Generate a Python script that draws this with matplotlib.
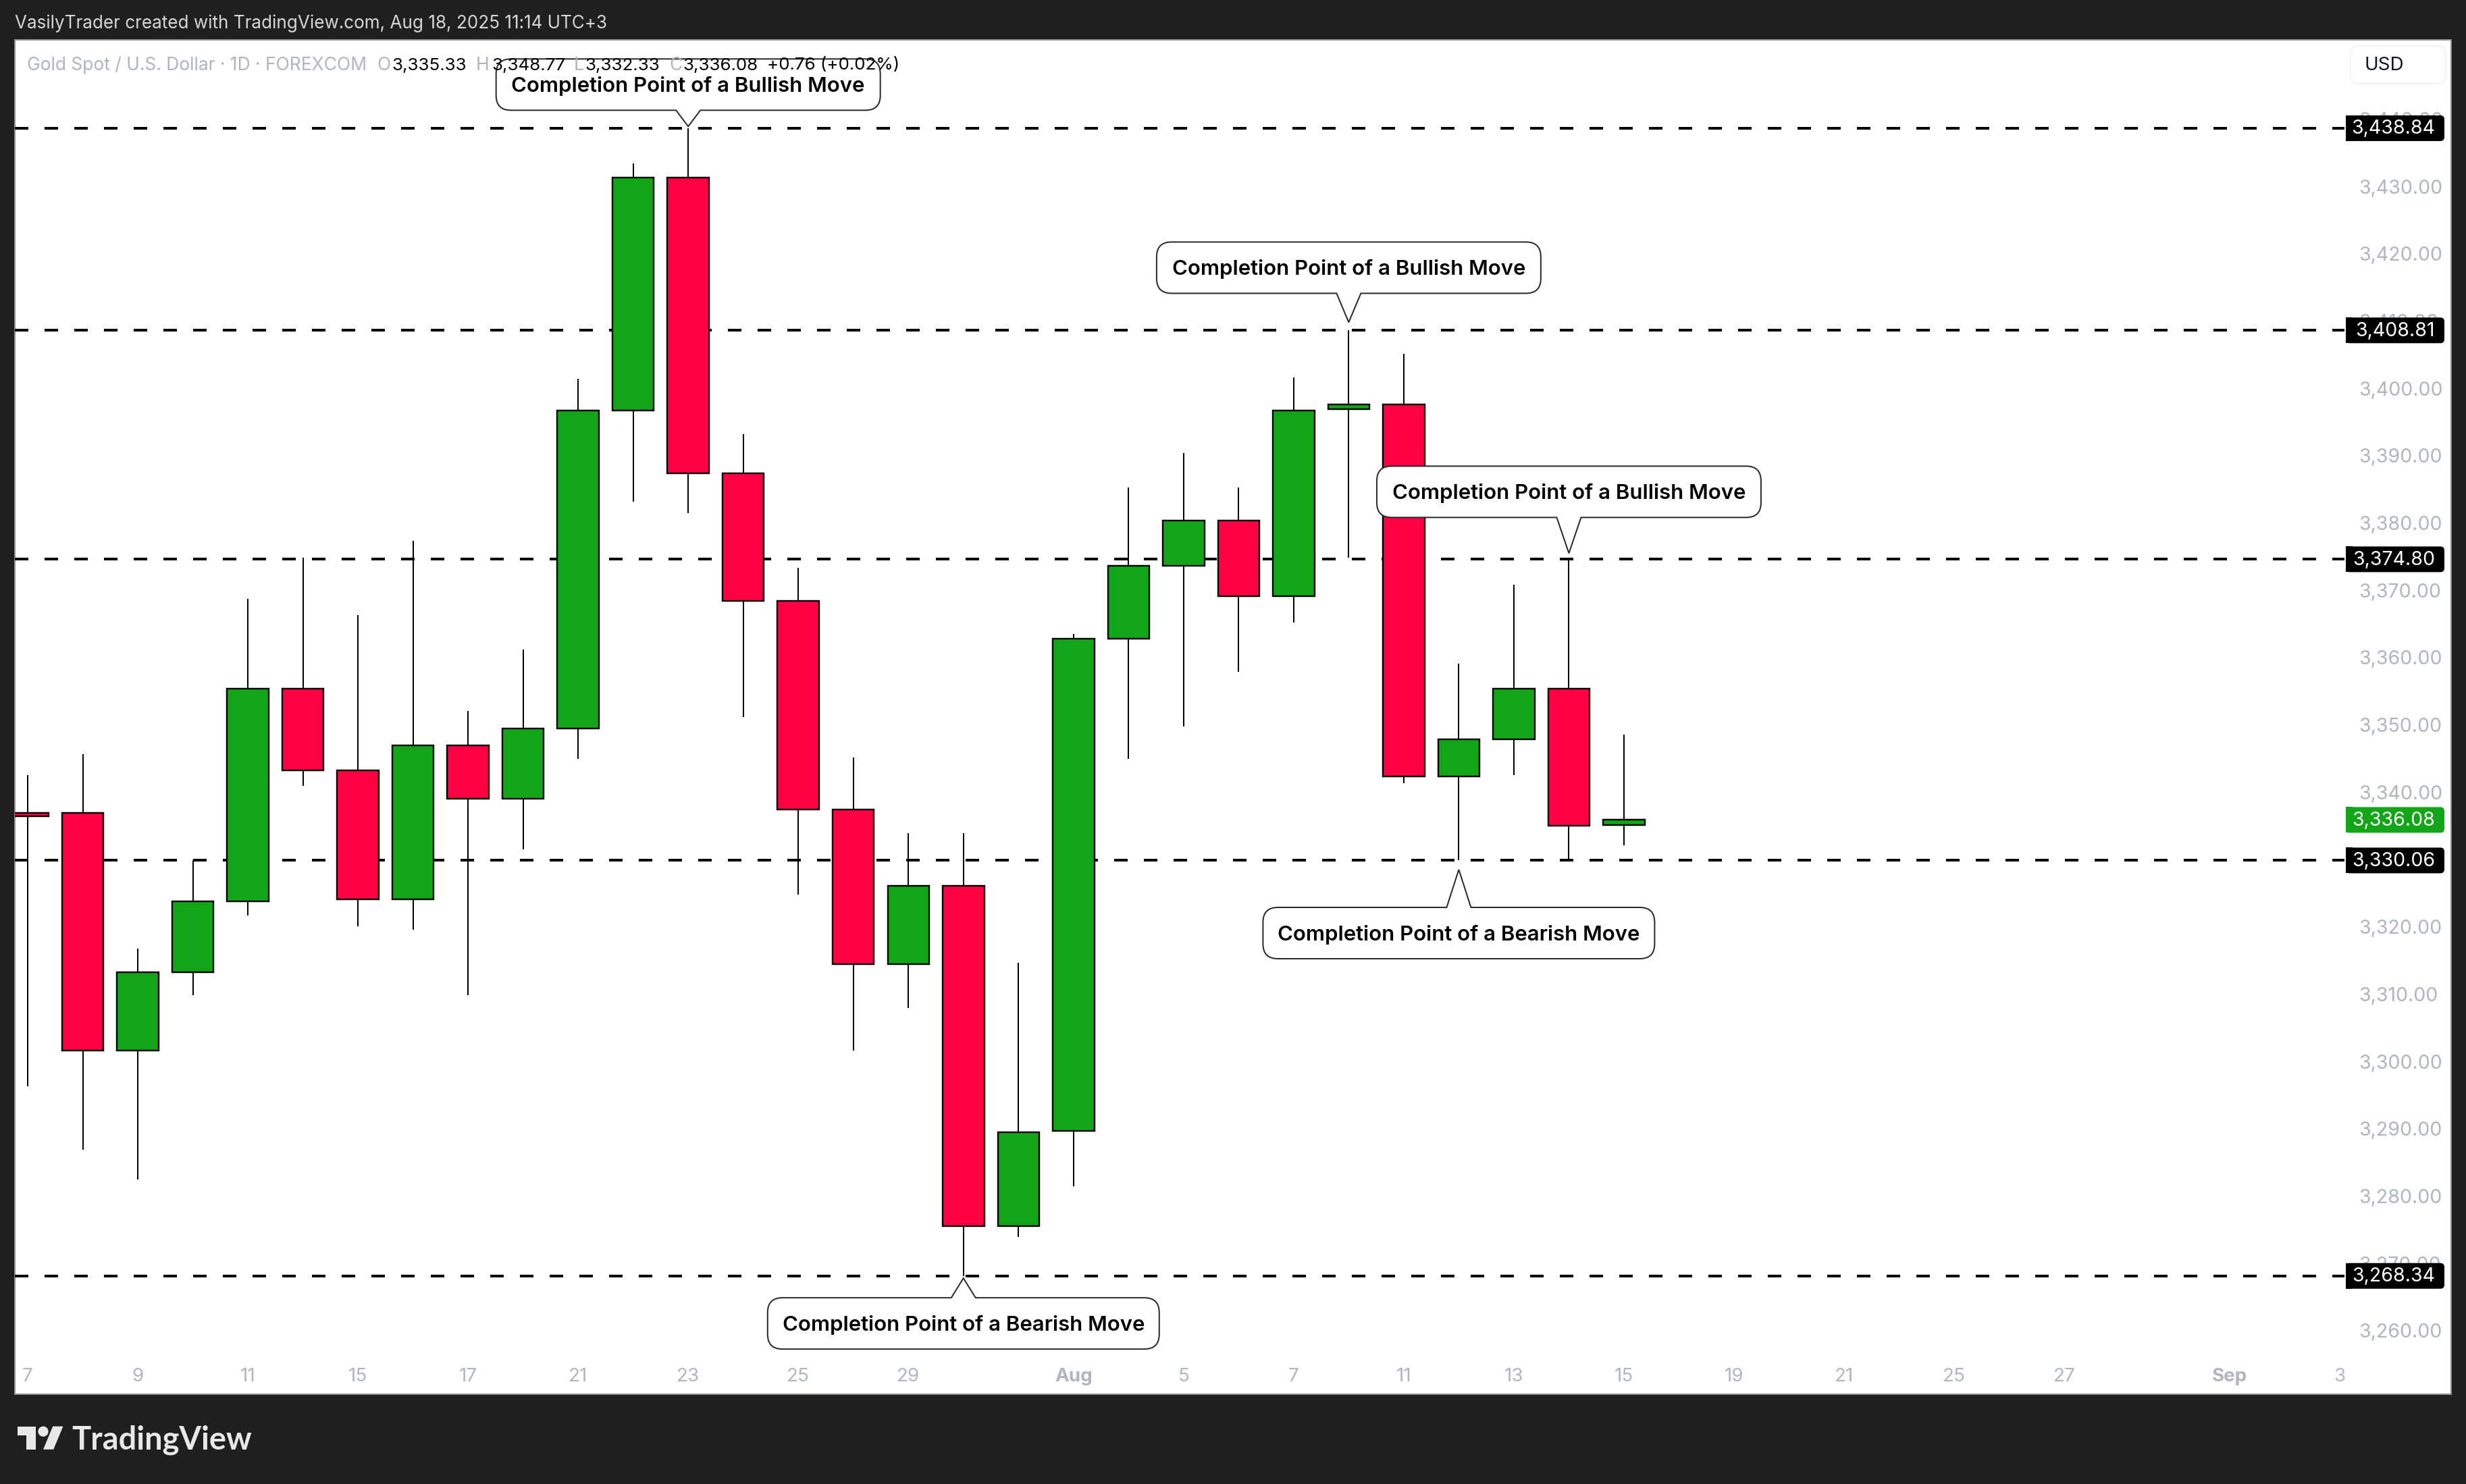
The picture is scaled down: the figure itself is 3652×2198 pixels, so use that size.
import matplotlib
matplotlib.use('Agg')
import matplotlib.pyplot as plt
from matplotlib.patches import FancyBboxPatch, PathPatch, Rectangle, Circle, Polygon
from matplotlib.path import Path
from matplotlib.transforms import ScaledTranslation

W, H = 3652, 2198
DARK = '#1f1f1f'
GREEN = '#12a518'
RED = '#ff0044'
GREY = '#b2b5be'
FONT = 'Inter'

# daily candles
opens = [3337.1, 3337.1, 3301.8, 3313.5, 3324.0, 3355.6, 3343.4, 3324.3, 3347.2, 3339.2,
         3349.7, 3396.9, 3431.5, 3387.6, 3368.6, 3337.6, 3314.7, 3326.3, 3275.7, 3289.9,
         3363.0, 3373.8, 3380.6, 3369.3, 3397.1, 3397.8, 3342.5, 3348.1, 3355.6, 3335.33]
highs = [3342.7, 3345.8, 3317.0, 3330.1, 3368.9, 3375.0, 3366.5, 3377.5, 3352.3, 3361.4,
         3401.6, 3433.6, 3438.84, 3393.4, 3373.5, 3345.3, 3334.1, 3334.1, 3314.9, 3363.7,
         3385.5, 3390.6, 3385.5, 3401.8, 3408.81, 3405.3, 3359.3, 3371.0, 3374.8, 3348.77]
lows = [3296.5, 3287.1, 3282.7, 3310.0, 3321.9, 3341.1, 3320.3, 3319.8, 3310.0, 3331.7,
        3345.1, 3383.4, 3381.7, 3351.4, 3325.0, 3301.8, 3308.1, 3268.34, 3274.1, 3281.7,
        3345.1, 3350.0, 3358.1, 3365.4, 3375.0, 3341.5, 3330.06, 3342.7, 3330.06, 3332.33]
closes = [3336.6, 3301.8, 3313.5, 3324.0, 3355.6, 3343.4, 3324.3, 3347.2, 3339.2, 3349.7,
          3396.9, 3431.5, 3387.6, 3368.6, 3337.6, 3314.7, 3326.3, 3275.7, 3289.7, 3363.0,
          3373.8, 3380.6, 3369.3, 3396.9, 3397.8, 3342.5, 3348.1, 3355.6, 3335.2, 3336.08]

levels = [3438.84, 3408.81, 3374.80, 3330.06, 3268.34]
last_price = 3336.08

price_ticks = [3260, 3270, 3280, 3290, 3300, 3310, 3320, 3330, 3340, 3350, 3360,
               3370, 3380, 3390, 3400, 3410, 3420, 3430, 3440]
time_ticks = [0, 2, 4, 6, 8, 10, 12, 14, 16, 19, 21, 23, 25, 27, 29, 31, 33, 35, 37, 40, 42]
time_labels = ['7', '9', '11', '15', '17', '21', '23', '25', '29', 'Aug', '5', '7', '11',
               '13', '15', '19', '21', '25', '27', 'Sep', '3']

callout_texts = ['Completion Point of a Bullish Move', 'Completion Point of a Bullish Move',
                 'Completion Point of a Bullish Move', 'Completion Point of a Bearish Move',
                 'Completion Point of a Bearish Move']
callout_index = [12, 24, 28, 26, 17]
callout_price = [3439.1, 3410.0, 3375.7, 3328.7, 3268.0]
callout_gap = [24, 43, 53, 56, 29]


def px(v):
    # image pixels to points at dpi 100
    return v * 0.72


def draw_callout(over, ax, text, idx, price, gap):
    disp = ax.transData.transform((idx, price))
    tx, ty = over.transData.inverted().transform(disp)
    bw = 569 if 'Bullish' in text else 580
    bh = 76
    r = 22
    hb = 18
    l = tx - bw / 2.0
    rt = tx + bw / 2.0
    if 'Bullish' in text:
        bot = ty - gap
        top = bot - bh
        verts = [(l + r, top), (rt - r, top), (rt, top), (rt, top + r), (rt, bot - r), (rt, bot),
                 (rt - r, bot), (tx + hb, bot), (tx, ty), (tx - hb, bot), (l + r, bot), (l, bot),
                 (l, bot - r), (l, top + r), (l, top), (l + r, top)]
        codes = [Path.MOVETO, Path.LINETO, Path.CURVE3, Path.CURVE3, Path.LINETO, Path.CURVE3,
                 Path.CURVE3, Path.LINETO, Path.LINETO, Path.LINETO, Path.LINETO, Path.CURVE3,
                 Path.CURVE3, Path.LINETO, Path.CURVE3, Path.CURVE3]
    else:
        top = ty + gap
        bot = top + bh
        verts = [(l + r, top), (tx - hb, top), (tx, ty), (tx + hb, top), (rt - r, top), (rt, top),
                 (rt, top + r), (rt, bot - r), (rt, bot), (rt - r, bot), (l + r, bot), (l, bot),
                 (l, bot - r), (l, top + r), (l, top), (l + r, top)]
        codes = [Path.MOVETO, Path.LINETO, Path.LINETO, Path.LINETO, Path.LINETO, Path.CURVE3,
                 Path.CURVE3, Path.LINETO, Path.CURVE3, Path.CURVE3, Path.LINETO, Path.CURVE3,
                 Path.CURVE3, Path.LINETO, Path.CURVE3, Path.CURVE3]
    over.add_patch(PathPatch(Path(verts, codes), fc='white', ec='#2a2a2a', lw=px(2), zorder=5))
    over.text(tx, (top + bot) / 2.0 + 2, text, ha='center', va='center', fontsize=22.4,
              fontweight='semibold', family=FONT, color='black', zorder=6)


def main():
    fig = plt.figure(figsize=(W / 100.0, H / 100.0), dpi=100, facecolor=DARK)

    # white panel behind the chart
    back = fig.add_axes([0, 0, 1, 1], zorder=0)
    back.set_xlim(0, W)
    back.set_ylim(H, 0)
    back.axis('off')
    back.add_patch(Rectangle((22, 59), 3608, 2006, fc='white', ec='#8f8f8f', lw=px(2)))

    # price pane, x is candle number and y is price
    left, right, top, bottom = 22, 3472, 59, 2010
    ax = fig.add_axes([left / W, 1 - bottom / H, (right - left) / W, (bottom - top) / H], zorder=1)
    ax.patch.set_visible(False)
    ax.set_xlim(-0.233, 42.09)
    ax.set_ylim(3256.28, 3451.97)
    for spine in ax.spines.values():
        spine.set_visible(False)

    for level in levels:
        ax.plot([-0.233, 42.09], [level, level], color='black', lw=px(4),
                linestyle=(0, (5, 6)), dash_capstyle='butt', zorder=1)

    for i in range(len(opens)):
        color = GREEN if closes[i] >= opens[i] else RED
        body_lo = min(opens[i], closes[i])
        body_hi = max(opens[i], closes[i])
        ax.plot([i, i], [lows[i], highs[i]], color='black', lw=px(2), solid_capstyle='butt',
                antialiased=False, zorder=2)
        ax.bar(i, body_hi - body_lo, bottom=body_lo, width=61.5 / 81.52, color=color,
               edgecolor='black', linewidth=px(2.4), zorder=3)

    ax.yaxis.tick_right()
    ax.set_yticks(price_ticks)
    ax.set_yticklabels(['{:,.2f}'.format(p) for p in price_ticks], family=FONT, fontsize=20.5, color=GREY)
    ax.tick_params(axis='y', length=0, pad=px(21))
    for label in ax.get_yticklabels():
        label.set_transform(label.get_transform() + ScaledTranslation(0, 2 / 100.0, fig.dpi_scale_trans))
    ax.set_xticks(time_ticks)
    ax.set_xticklabels(time_labels, family=FONT, fontsize=20, color=GREY)
    ax.tick_params(axis='x', length=0, pad=px(16))
    for label in ax.get_xticklabels():
        if label.get_text() in ('Aug', 'Sep'):
            label.set_fontweight('bold')

    # everything on top is in image pixels
    over = fig.add_axes([0, 0, 1, 1], zorder=2)
    over.patch.set_visible(False)
    over.set_xlim(0, W)
    over.set_ylim(H, 0)
    over.axis('off')

    for i in range(len(callout_texts)):
        draw_callout(over, ax, callout_texts[i], callout_index[i], callout_price[i], callout_gap[i])

    # price labels on the scale
    for price in levels + [last_price]:
        yc = over.transData.inverted().transform(ax.transData.transform((0, price)))[1]
        fc = GREEN if price == last_price else 'black'
        over.add_patch(FancyBboxPatch((3476, yc - 17), 142, 34, boxstyle='round,pad=2,rounding_size=6',
                                      fc=fc, ec='none', zorder=4))
        over.add_patch(Rectangle((3474, yc - 19), 10, 38, fc=fc, ec='none', zorder=4))
        over.text(3606, yc + 1, '{:,.2f}'.format(price), ha='right', va='center', family=FONT,
                  fontsize=20.5, color='white', zorder=5)

    # currency button
    over.add_patch(FancyBboxPatch((3489, 76), 125, 40, boxstyle='round,pad=8,rounding_size=12',
                                  fc='white', ec='#f0f3fa', lw=px(2), zorder=4))
    over.text(3502, 97, 'USD', ha='left', va='center', family=FONT, fontsize=20, color='#131722', zorder=5)

    # header and legend
    over.text(22, 35, 'VasilyTrader created with TradingView.com, Aug 18, 2025 11:14 UTC+3', ha='left',
              va='center', family=FONT, fontsize=18.75, color='#d6d6d6', zorder=6)
    over.text(40, 97, 'Gold Spot / U.S. Dollar \u00b7 1D \u00b7 FOREXCOM', ha='left', va='center',
              family=FONT, fontsize=19, color=GREY, zorder=7)
    for x, letter in [(558, 'O'), (705, 'H'), (850, 'L'), (991, 'C')]:
        over.text(x, 97, letter, ha='left', va='center', family=FONT, fontsize=19, color=GREY, zorder=7)
    for x, val in [(580, '3,335.33'), (728, '3,348.77'), (866, '3,332.33'), (1011, '3,336.08'),
                   (1136, '+0.76 (+0.02%)')]:
        over.text(x, 97, val, ha='left', va='center', family=FONT, fontsize=18.7, color='black', zorder=7)

    # logo in the footer
    lx, ly, s = 26, 2105, 1.9
    logo = '#e8e8e8'
    over.add_patch(Polygon([(lx + 14 * s, ly + 22 * s), (lx + 7 * s, ly + 22 * s), (lx + 7 * s, ly + 11 * s),
                            (lx, ly + 11 * s), (lx, ly + 4 * s), (lx + 14 * s, ly + 4 * s)], fc=logo, ec='none'))
    over.add_patch(Polygon([(lx + 28 * s, ly + 22 * s), (lx + 20 * s, ly + 22 * s), (lx + 27.5 * s, ly + 4 * s),
                            (lx + 35.5 * s, ly + 4 * s)], fc=logo, ec='none'))
    over.add_patch(Circle((lx + 20 * s, ly + 8 * s), 4 * s, fc=logo, ec='none'))
    over.text(106, 2133, 'TradingView', ha='left', va='center', family='Lato', fontsize=33.8,
              fontweight='bold', color=logo)

    fig.savefig('out.png', dpi=100, facecolor=DARK)
    plt.close(fig)


if __name__ == '__main__':
    main()
